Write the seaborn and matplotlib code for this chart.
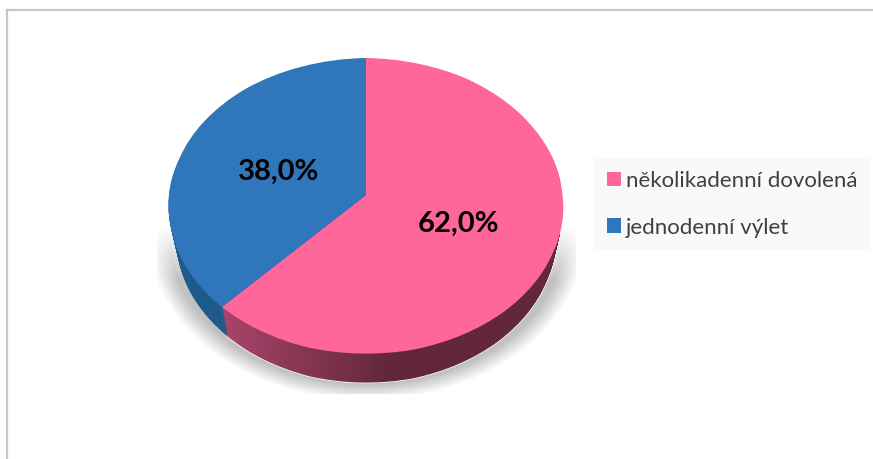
import numpy as np
import matplotlib
matplotlib.use('AGG')
import matplotlib.pyplot as plt
from matplotlib.colors import LinearSegmentedColormap
from matplotlib.path import Path
import seaborn as sns

categories = ["několikadenní dovolená", "jednodenní výlet"]
shares = [62.0, 38.0]

top_colors = sns.color_palette(["#ff6699", "#2f77ba"])
side_blue = "#1f5a8c"
side_pink = LinearSegmentedColormap.from_list("side", ["#a8456a", "#62273b", "#62273b"])

sns.set_theme(style="white")
plt.rcParams['font.family'] = ['Lato', 'DejaVu Sans']

W, H = 873, 459
cx, cy, rx, ry, depth = 366, 206, 197, 148, 29


def tilt(wedge, drop=0.0):
    # perspective of the 3d pie: hub sits behind the middle, front angles open up,
    # lower layers get a bit narrower
    path = wedge.get_path()
    x, y = path.vertices[:, 0], path.vertices[:, 1]
    r = np.hypot(x, y)
    a = np.arctan2(x, y)
    a = a + np.radians(3.8) * np.sin(2 * a)
    hub = 11 / ry
    nx = r * np.sin(a) * (1 - 0.035 * drop * ry / depth)
    ny = r * np.cos(a) + np.clip(1 - r, 0, 1) * hub - drop
    wedge._path = Path(np.column_stack([nx, ny]), path.codes)


fig = plt.figure(figsize=(W / 100, H / 100), dpi=100)

# frame of the chart area, only left and top reach inside the picture
frame = fig.add_axes([6.5 / W, -0.1, 1.1, 1.1 - 10.5 / H])
frame.set_xticks([])
frame.set_yticks([])
for side in ["right", "bottom"]:
    frame.spines[side].set_visible(False)
for side in ["left", "top"]:
    frame.spines[side].set_color("#c8c8c8")
    frame.spines[side].set_linewidth(1.6)

ax = fig.add_axes([0, 0, 1, 1])
ax.patch.set_alpha(0)

# soft shadow under the pie
px, py = np.meshgrid(np.arange(157, 576), np.arange(225, 394))
dist = (np.sqrt(((px - cx) / rx) ** 2 + ((py - cy - 30) / ry) ** 2) - 1) * 170
shade = np.clip(1 - dist / 18, 0, 1)
shade = shade * np.clip((py - 225) / 55, 0, 1)
rgba = np.zeros(px.shape + (4,))
rgba[..., :3] = 0.76
rgba[..., 3] = shade
ax.imshow(rgba, extent=[(157 - cx) / rx, (576 - cx) / rx, (cy - 394) / ry, (cy - 225) / ry],
          origin="upper", aspect="auto", zorder=1)

# side of the pie: stacked layers from the bottom up
grad = np.linspace(0, 1, 256).reshape(1, -1)
for i, d in enumerate(range(depth, 0, -1)):
    wedges, _ = ax.pie(shares, startangle=90, counterclock=False, radius=1,
                       colors=["none", side_blue])
    for w in wedges:
        tilt(w, d / ry)
    wedges[1].set_zorder(2 + i)
    wedges[1].set_linewidth(0)
    im = ax.imshow(grad, cmap=side_pink, aspect="auto", zorder=2 + i,
                   extent=[(222 - cx) / rx, (560 - cx) / rx, -1.4, 0.5])
    im.set_clip_path(wedges[0])

wedges, texts, autotexts = ax.pie(shares, startangle=90, counterclock=False, radius=1,
                                  colors=top_colors, pctdistance=0.49,
                                  autopct=lambda p: f"{p:.1f}%".replace(".", ","),
                                  textprops=dict(fontsize=21, fontweight="bold", color="black"))
for w in wedges:
    tilt(w)
    w.set_zorder(50)
    w.set_linewidth(0)
for t, dx, dy in zip(autotexts, [0.015, 0.01], [0.057, 0.048]):
    t.set_zorder(60)
    x0, y0 = t.get_position()
    t.set_position((x0 + dx, y0 + dy))

ax.set_aspect("auto")
ax.set_xlim(-cx / rx, (W - cx) / rx)
ax.set_ylim((cy - H) / ry, cy / ry)

leg = ax.legend(wedges, categories, loc="upper left", bbox_to_anchor=(594 / W, 1 - 158 / H),
                bbox_transform=fig.transFigure, fontsize=16, frameon=True, fancybox=False,
                facecolor="#f9f9f9", edgecolor="none", framealpha=1, borderaxespad=0,
                handlelength=0.63, handleheight=0.63, handletextpad=0.22,
                labelspacing=1.2, borderpad=0.58, labelcolor="#404040")
leg.set_zorder(70)

fig.savefig("out.png", dpi=100)
